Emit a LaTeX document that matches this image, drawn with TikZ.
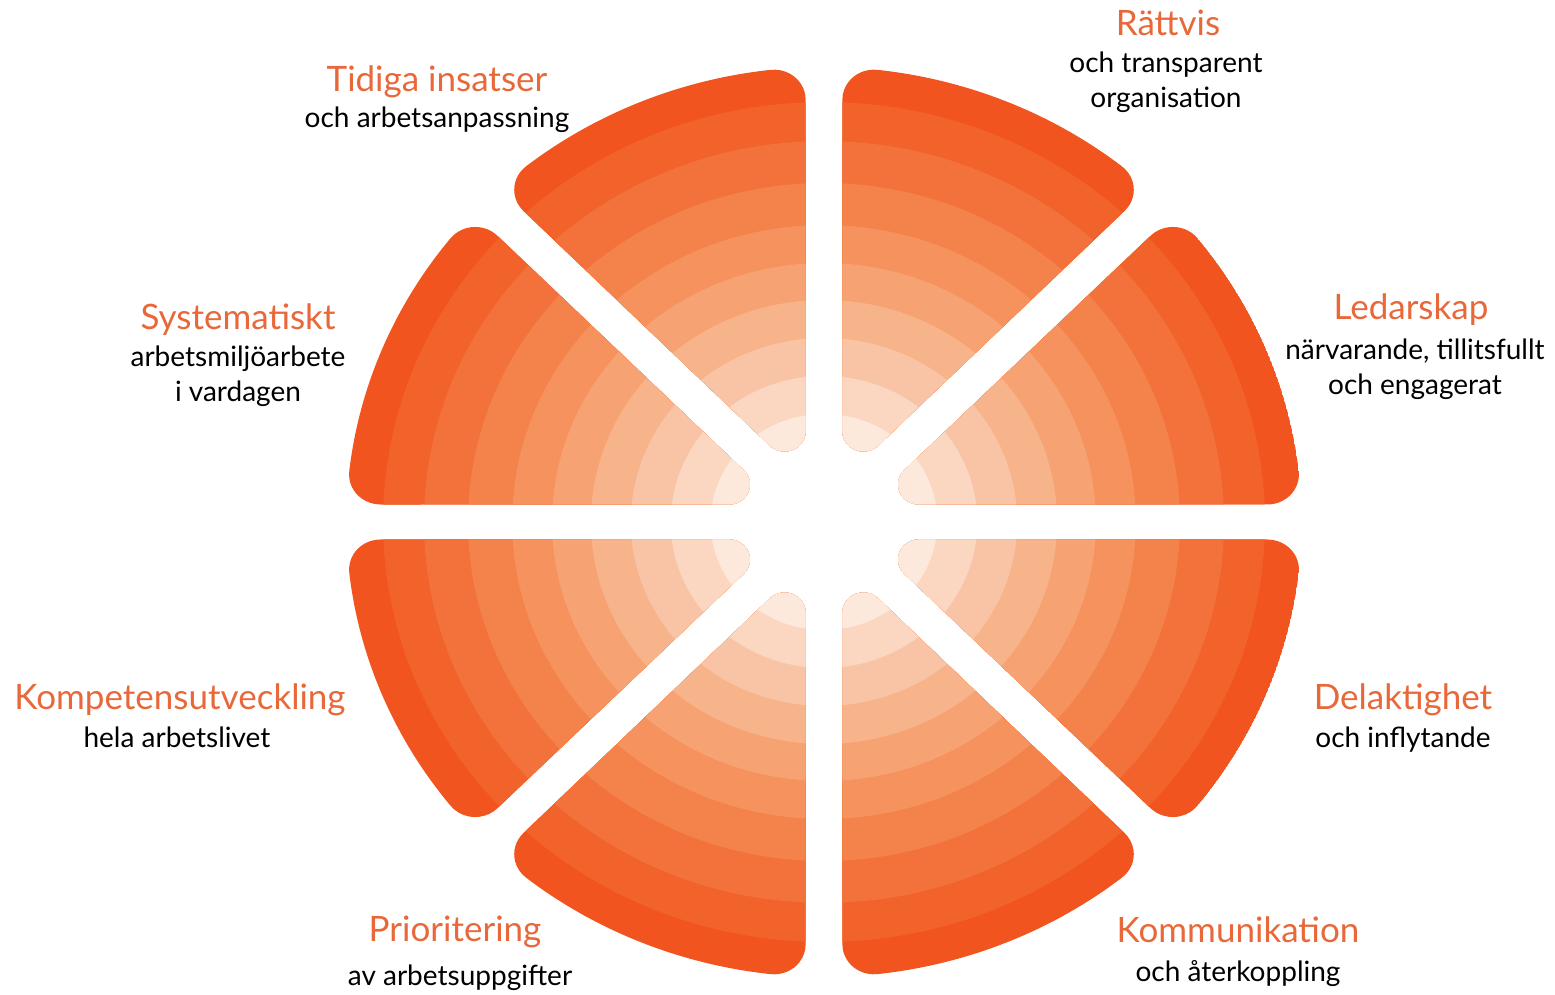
\documentclass[tikz,border=0pt]{standalone}
\usepackage{fontspec}
\setmainfont{Lato}
\usepackage{tikz}

\definecolor{ringA}{HTML}{F1541E}
\definecolor{ringB}{HTML}{F2622B}
\definecolor{ringC}{HTML}{F3713A}
\definecolor{ringD}{HTML}{F4834B}
\definecolor{ringE}{HTML}{F5925D}
\definecolor{ringF}{HTML}{F6A272}
\definecolor{ringG}{HTML}{F7B38A}
\definecolor{ringH}{HTML}{F9C4A5}
\definecolor{ringI}{HTML}{FBD7C2}
\definecolor{ringJ}{HTML}{FDE9DC}
\definecolor{titleorange}{HTML}{E8683A}

\tikzset{
  title/.style={anchor=base, inner sep=0pt, text=titleorange, font=\fontsize{35}{40}\selectfont},
  sub/.style={anchor=base, inner sep=0pt, font=\fontsize{28}{35}\selectfont}
}

\begin{document}
\begin{tikzpicture}[x=1pt, y=1pt]
  \useasboundingbox (0,0) rectangle (1555,995);

  \pgfmathsetmacro{\halfgap}{17.5}
  \pgfmathsetmacro{\rDisc}{455}
  \pgfmathsetmacro{\rOut}{30}
  \pgfmathsetmacro{\rIn}{20}
  \pgfmathsetmacro{\outD}{asin((\halfgap+\rOut)/(\rDisc-\rOut))}
  \pgfmathsetmacro{\outS}{(\rDisc-\rOut)*cos(\outD)}
  \pgfmathsetmacro{\inC}{(\halfgap+\rIn)/sin(22.5)*cos(22.5)}

  % eight segments of rings
  \begin{scope}[shift={(824,473)}, xscale=1.05]
    \foreach \a in {0,45,...,315}{
      \begin{scope}[rotate=\a]
        \clip (\inC,\halfgap) -- (\outS,\halfgap)
          arc[start angle=-90, end angle=\outD, radius=\rOut]
          arc[start angle=\outD, end angle=45-\outD, radius=\rDisc]
          arc[start angle=45-\outD, end angle=135, radius=\rOut]
          -- ([shift={(-45:\halfgap)}]45:\inC)
          arc[start angle=135, end angle=270, radius=\rIn] -- cycle;
        \foreach \rad/\col in {455/ringA, 420/ringB, 381/ringC, 339/ringD, 297/ringE,
                               259/ringF, 222/ringG, 184/ringH, 146/ringI, 108/ringJ}
          \fill[\col] (0,0) circle[radius=\rad];
      \end{scope}
    }
  \end{scope}

  \node (tidiga) [title] at (437,903) {Tidiga insatser};
  \node (tidigasub) [sub] at (437,867) {och arbetsanpassning};

  \node (rattvis) [title] at (1168,959) {Rättvis};
  \node (rattvissub) [sub] at (1166,922) {
    \begin{tabular}[t]{@{}c@{}}
      och transparent \\
      organisation
    \end{tabular}
  };

  \node (ledarskap) [title] at (1411,675) {Ledarskap};
  \node (ledarskapsub) [sub] at (1415,635) {
    \begin{tabular}[t]{@{}c@{}}
      närvarande, tillitsfullt \\
      och engagerat
    \end{tabular}
  };

  \node (systematiskt) [title] at (238,665) {Systematiskt};
  \node (systematisktsub) [sub] at (238,628) {
    \begin{tabular}[t]{@{}c@{}}
      arbetsmiljöarbete \\
      i vardagen
    \end{tabular}
  };

  \node (kompetens) [title] at (180,285) {Kompetensutveckling};
  \node (kompetenssub) [sub] at (177,247) {hela arbetslivet};

  \node (delaktighet) [title] at (1403,285) {Delaktighet};
  \node (delaktighetsub) [sub] at (1403,247) {och inflytande};

  \node (prioritering) [title] at (455,53) {Prioritering};
  \node (prioriteringsub) [sub] at (460,9) {av arbetsuppgifter};

  \node (kommunikation) [title] at (1238,52) {Kommunikation};
  \node (kommunikationsub) [sub] at (1238,13) {och återkoppling};
\end{tikzpicture}
\end{document}
